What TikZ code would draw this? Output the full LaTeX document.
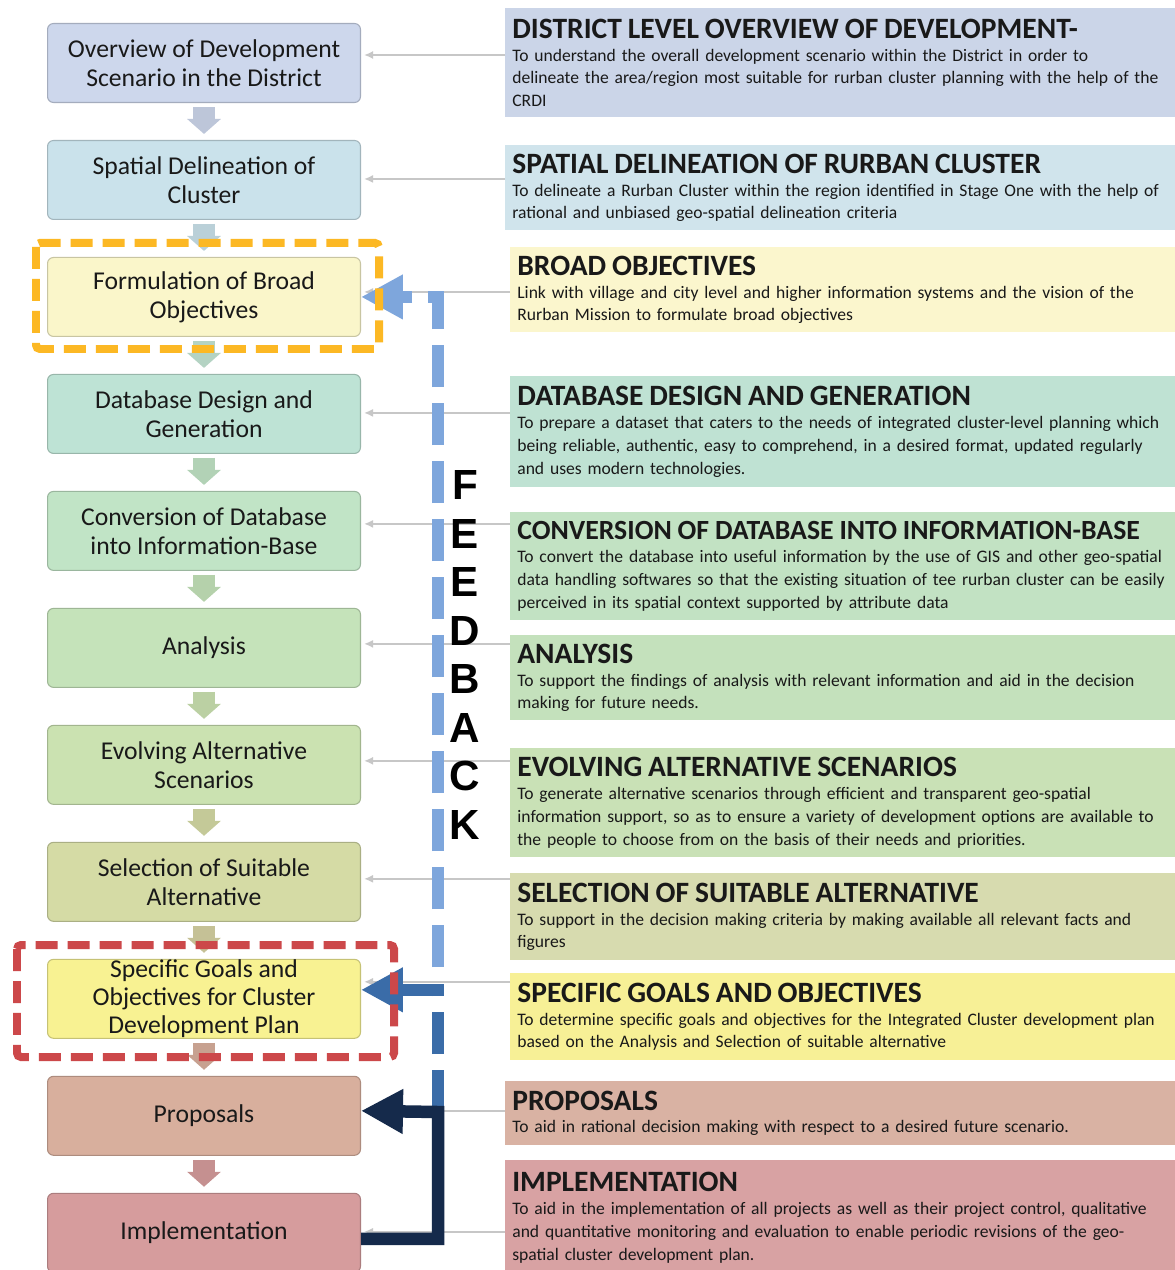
\documentclass[tikz,border=0pt]{standalone}
\usepackage{fontspec}
\setmainfont{Carlito}
\newfontfamily\feedfont{Liberation Sans}
\usetikzlibrary{arrows.meta,positioning,calc}

\definecolor{scol1}{RGB}{205,215,236}
\definecolor{scol2}{RGB}{202,226,235}
\definecolor{scol3}{RGB}{250,246,202}
\definecolor{scol4}{RGB}{190,227,213}
\definecolor{scol5}{RGB}{193,228,198}
\definecolor{scol6}{RGB}{197,227,186}
\definecolor{scol7}{RGB}{203,226,177}
\definecolor{scol8}{RGB}{213,219,165}
\definecolor{scol9}{RGB}{248,242,146}
\definecolor{scol10}{RGB}{216,175,157}
\definecolor{scol11}{RGB}{214,156,157}
\definecolor{pcol1}{RGB}{203,213,232}
\definecolor{pcol2}{RGB}{208,228,236}
\definecolor{pcol3}{RGB}{251,246,205}
\definecolor{pcol4}{RGB}{191,226,211}
\definecolor{pcol5}{RGB}{194,226,195}
\definecolor{pcol6}{RGB}{196,225,188}
\definecolor{pcol7}{RGB}{201,225,182}
\definecolor{pcol8}{RGB}{215,219,175}
\definecolor{pcol9}{RGB}{247,240,150}
\definecolor{pcol10}{RGB}{217,178,163}
\definecolor{pcol11}{RGB}{216,162,163}
\definecolor{hlorange}{RGB}{252,184,36}
\definecolor{hlred}{RGB}{204,72,74}
\definecolor{fblight}{RGB}{126,166,220}
\definecolor{fbmid}{RGB}{58,108,168}
\definecolor{fbnavy}{RGB}{21,42,75}

\newcommand{\ptitle}[2][16.8]{{\fontsize{#1}{19}\selectfont\bfseries #2}\\}

\begin{document}
\begin{tikzpicture}[x=0.02cm, y=-0.02cm, node distance = 2.34cm,%
	stage/.style={rectangle, rounded corners=0.12cm, fill=#1, draw=#1!80!black,
		line width=0.6pt, minimum width=6.26cm, minimum height=1.58cm,
		align=center, text=black!90, font=\fontsize{14.6}{16.4}\selectfont},
	panel/.style={rectangle, fill=#1, anchor=north west, inner xsep=0.14cm,
		text width=14cm, align=left, text=black!90, font=\fontsize{10}{13}\selectfont},
	flow/.style={draw=#1, line width=0.44cm, shorten <=0.08cm, shorten >=0.12cm,
		-{Triangle[width=0.66cm,length=0.3cm]}},
	link/.style={draw=black!22, line width=0.05cm, -{Latex[length=0.18cm,width=0.16cm]}},
	hlbox/.style={draw=#1, line width=0.16cm, dash pattern=on 0.44cm off 0.2cm, rounded corners=0.08cm},
	back/.style={draw=#1, line width=0.25cm, -{Triangle[length=0.84cm,width=0.84cm]}},
	backdash/.style={back=#1, dash pattern=on 0.84cm off 0.32cm}]

	\fill[white] (0,0) rectangle (1175,1270);
	\useasboundingbox (0,0) rectangle (1175,1270);

	% stages
	\node[stage=scol1] (s1) at (204,63) {Overview of Development\\Scenario in the District};
	\node[stage=scol2] (s2) [below of = s1] {Spatial Delineation of\\Cluster};
	\node[stage=scol3] (s3) [below of = s2] {Formulation of Broad\\Objectives};
	\node[stage=scol4] (s4) [below of = s3] {Database Design and\\Generation};
	\node[stage=scol5] (s5) [below of = s4] {Conversion of Database\\into Information-Base};
	\node[stage=scol6] (s6) [below of = s5] {Analysis};
	\node[stage=scol7] (s7) [below of = s6] {Evolving Alternative\\Scenarios};
	\node[stage=scol8] (s8) [below of = s7] {Selection of Suitable\\Alternative};
	\node[stage=scol9, inner ysep=0pt, font=\fontsize{14.6}{16}\selectfont] (s9) [below of = s8] {Specific Goals and\\Objectives for Cluster\\Development Plan};
	\node[stage=scol10] (s10) [below of = s9] {Proposals};
	\node[stage=scol11] (s11) [below of = s10] {Implementation};

	% descriptions
	\node[panel=pcol1, minimum height=2.18cm] (d1) at (505,8) {\ptitle{DISTRICT LEVEL OVERVIEW OF DEVELOPMENT-}
		To understand the overall development scenario within the District in order to\\
		delineate the area/region most suitable for rurban cluster planning with the help of the\\
		CRDI};
	\node[panel=pcol2, minimum height=1.70cm] (d2) at (505,145) {\ptitle{SPATIAL DELINEATION OF RURBAN CLUSTER}
		To delineate a Rurban Cluster within the region identified in Stage One with the help of\\
		rational and unbiased geo-spatial delineation criteria};
	\node[panel=pcol3, minimum height=1.70cm] (d3) at (510,247) {\ptitle{BROAD OBJECTIVES}
		Link with village and city level and higher information systems and the vision of the\\
		Rurban Mission to formulate broad objectives};
	\node[panel=pcol4, minimum height=2.22cm] (d4) at (510,376) {\ptitle{DATABASE DESIGN AND GENERATION}
		To prepare a dataset that caters to the needs of integrated cluster-level planning which\\
		being reliable, authentic, easy to comprehend, in a desired format, updated regularly\\
		and uses modern technologies.};
	\node[panel=pcol5, minimum height=2.16cm] (d5) at (510,512) {\ptitle[15.8]{CONVERSION OF DATABASE INTO INFORMATION-BASE}
		To convert the database into useful information by the use of GIS and other geo-spatial\\
		data handling softwares so that the existing situation of tee rurban cluster can be easily\\
		perceived in its spatial context supported by attribute data};
	\node[panel=pcol6, minimum height=1.70cm] (d6) at (510,635) {\ptitle{ANALYSIS}
		To support the findings of analysis with relevant information and aid in the decision\\
		making for future needs.};
	\node[panel=pcol7, minimum height=2.18cm] (d7) at (510,748) {\ptitle{EVOLVING ALTERNATIVE SCENARIOS}
		To generate alternative scenarios through efficient and transparent geo-spatial\\
		information support, so as to ensure a variety of development options are available to\\
		the people to choose from on the basis of their needs and priorities.};
	\node[panel=pcol8, minimum height=1.74cm] (d8) at (510,873) {\ptitle{SELECTION OF SUITABLE ALTERNATIVE}
		To support in the decision making criteria by making available all relevant facts and\\
		figures};
	\node[panel=pcol9, minimum height=1.74cm] (d9) at (510,973) {\ptitle{SPECIFIC GOALS AND OBJECTIVES}
		To determine specific goals and objectives for the Integrated Cluster development plan\\
		based on the Analysis and Selection of suitable alternative};
	\node[panel=pcol10, minimum height=1.28cm] (d10) at (505,1081) {\ptitle{PROPOSALS}
		To aid in rational decision making with respect to a desired future scenario.};
	\node[panel=pcol11, minimum height=2.30cm] (d11) at (505,1160) {\ptitle{IMPLEMENTATION}
		To aid in the implementation of all projects as well as their project control, qualitative\\
		and quantitative monitoring and evaluation to enable periodic revisions of the geo-\\
		spatial cluster development plan.};

	% grey links, lifted a little above the box centres
	\foreach \i/\dy in {1/8, 2/1, 3/5, 4/1, 5/7, 6/4, 7/4, 8/3, 9/17, 10/5, 11/1}
		\draw[link] ($(d\i.west |- s\i.east)+(0,-\dy)$) -- ($(s\i.east)+(3,-\dy)$);

	% downward flow
	\foreach \a/\b/\c in {s1/s2/scol1, s2/s3/scol2, s3/s4/scol4!90!scol3, s4/s5/scol5,
		s5/s6/scol6, s6/s7/scol7, s7/s8/scol8, s8/s9/scol8!80!scol10, s9/s10/scol10, s10/s11/scol11}
		\draw[flow=\c!92!black] (\a) -- (\b);

	% feedback
	\coordinate (fbA) at (438,967);
	\coordinate (fbC) at (438,1112);
	\draw[backdash=fblight] (fbA) |- (s3.east);
	\draw[backdash=fbmid] (fbC) |- ([yshift=0.18cm]s9.east);
	\draw[back=fbnavy] ([yshift=-0.12cm]s11.east) -| (fbC) -- ([yshift=0.1cm]s10.east);
	\node[font=\feedfont\bfseries\fontsize{24}{27.6}\selectfont, align=center] (fbword) at (465,655)
		{F\\E\\E\\D\\B\\A\\C\\K};

	% highlighted stages
	\draw[hlbox=hlorange] (36,243) rectangle (379,349);
	\draw[hlbox=hlred] (17,945) rectangle (394,1057);
\end{tikzpicture}
\end{document}
